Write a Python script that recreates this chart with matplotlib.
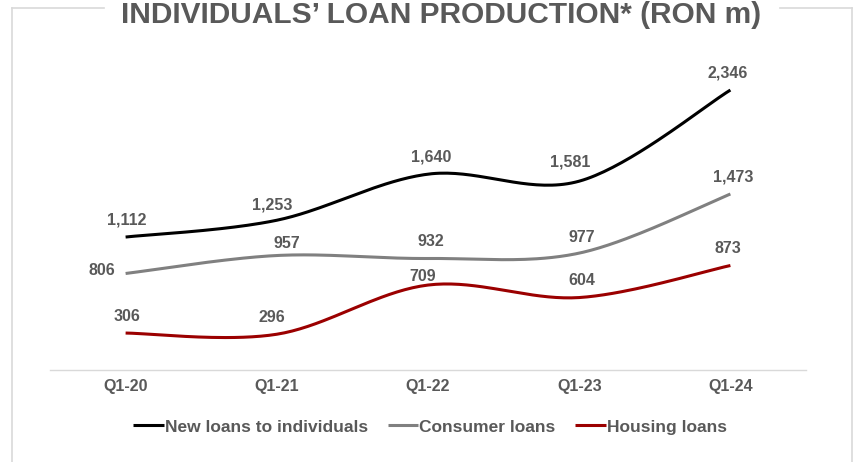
import numpy as np
import matplotlib
matplotlib.use("Agg")
import matplotlib.pyplot as plt
from matplotlib.lines import Line2D

categories = ["Q1-20", "Q1-21", "Q1-22", "Q1-23", "Q1-24"]
new_loans = [1112, 1253, 1640, 1581, 2346]
consumer_loans = [806, 957, 932, 977, 1473]
housing_loans = [306, 296, 709, 604, 873]
series_names = ["New loans to individuals", "Consumer loans", "Housing loans"]

title = "INDIVIDUALS\u2019 LOAN PRODUCTION* (RON m)"

TEXT = "#595959"
colors = ["#000000", "#808080", "#9b0000"]

plt.rcParams["font.family"] = ["Liberation Sans", "DejaVu Sans"]
plt.rcParams["font.weight"] = "bold"

W, H = 857, 462
fig = plt.figure(figsize=(W / 100, H / 100), dpi=100)

# axes placed in pixel terms
x0, x1 = 50, 806
y_bottom, y_top = 369.5, 71.7
ax = fig.add_axes([x0 / W, 1 - y_bottom / H, (x1 - x0) / W, (y_bottom - y_top) / H])
ax.set_xlim(-0.5, len(categories) - 0.5)
ax.set_ylim(0, 2500)


def smooth(xs, ys, n=40):
    """Catmull-Rom spline through the points (Excel-style smoothed line)."""
    xs = np.asarray(xs, float)
    ys = np.asarray(ys, float)
    px = np.concatenate([[xs[0]], xs, [xs[-1]]])
    py = np.concatenate([[ys[0]], ys, [ys[-1]]])
    outx, outy = [], []
    t = np.linspace(0, 1, n)
    for i in range(1, len(px) - 2):
        p0x, p1x, p2x, p3x = px[i - 1], px[i], px[i + 1], px[i + 2]
        p0y, p1y, p2y, p3y = py[i - 1], py[i], py[i + 1], py[i + 2]
        c1x, c1y = p1x + (p2x - p0x) / 6, p1y + (p2y - p0y) / 6
        c2x, c2y = p2x - (p3x - p1x) / 6, p2y - (p3y - p1y) / 6
        bx = (1 - t) ** 3 * p1x + 3 * (1 - t) ** 2 * t * c1x + 3 * (1 - t) * t ** 2 * c2x + t ** 3 * p2x
        by = (1 - t) ** 3 * p1y + 3 * (1 - t) ** 2 * t * c1y + 3 * (1 - t) * t ** 2 * c2y + t ** 3 * p2y
        outx.extend(bx)
        outy.extend(by)
    return np.array(outx), np.array(outy)


xs = np.arange(len(categories))
all_series = [new_loans, consumer_loans, housing_loans]
handles = []
for vals, col, name in zip(all_series, colors, series_names):
    sx, sy = smooth(xs, vals)
    ln, = ax.plot(sx, sy, color=col, lw=2.2, solid_capstyle="butt", label=name)
    handles.append(ln)

# value labels (offsets in points)
offsets = [
    [(1, 12), (-3.5, 11), (2, 12), (-6.5, 14), (-2, 12)],
    [(-17, 2), (7, 9), (2, 12), (2, 11.5), (2, 12)],
    [(1, 12), (-3.5, 12), (-4, 6.5), (2, 12), (-2, 12.5)],
]
for vals, offs in zip(all_series, offsets):
    for x, v, (dx, dy) in zip(xs, vals, offs):
        ax.annotate(f"{v:,}", (x, v), xytext=(dx, dy), textcoords="offset points",
                    ha="center", va="center", fontsize=11.5, fontweight="bold", color=TEXT)

ax.set_xticks(xs)
ax.set_xticklabels(categories, fontsize=11.5, fontweight="bold", color=TEXT)
ax.tick_params(axis="x", length=0, pad=7)
ax.set_yticks([])
for s in ["top", "right", "left"]:
    ax.spines[s].set_visible(False)
ax.spines["bottom"].set_color("#d9d9d9")
ax.spines["bottom"].set_linewidth(1.0)
ax.patch.set_alpha(0)

leg = fig.legend(handles=handles, loc="center", bbox_to_anchor=(430 / W, 1 - 427 / H),
                 ncol=3, frameon=False, fontsize=12.5, handlelength=1.75, handletextpad=0.05,
                 columnspacing=1.15)
for t in leg.get_texts():
    t.set_color(TEXT)
    t.set_fontweight("bold")

# frame around the chart, broken by the title
fc = "#d9d9d9"
def fline(xa, ya, xb, yb):
    fig.add_artist(Line2D([xa / W, xb / W], [1 - ya / H, 1 - yb / H], color=fc, lw=1.2,
                          transform=fig.transFigure))

fline(12, 8, 104, 8)
fline(780, 8, 852, 8)
fline(12, 8, 12, 470)
fline(852, 8, 852, 470)

fig.text(441 / W, 1 - 23 / H, title, ha="center", va="baseline", fontsize=21.5,
         fontweight="bold", color=TEXT)

fig.savefig("out.png", dpi=100)
